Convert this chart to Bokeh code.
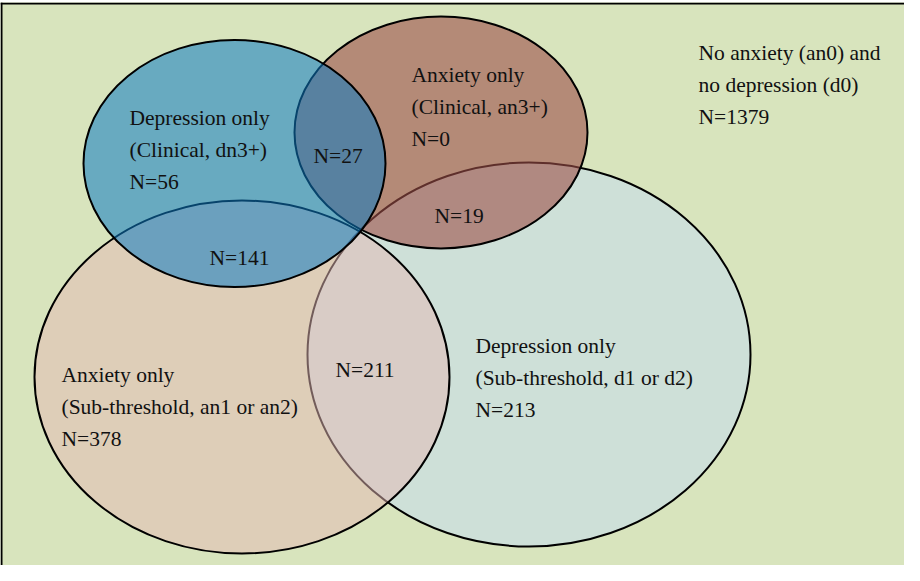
from bokeh.plotting import figure
from bokeh.models import ColumnDataSource, Range1d, Span
from bokeh.core.properties import value
from bokeh.embed import file_html
from bokeh.resources import INLINE

# ---------------- data ----------------
# the four sets, in drawing order (bottom -> top)
set_keys = ["dep_sub", "anx_sub", "anx_clin", "dep_clin"]
set_titles = ["Depression only", "Anxiety only", "Anxiety only", "Depression only"]
set_subtitles = ["(Sub-threshold, d1 or d2)", "(Sub-threshold, an1 or an2)",
                 "(Clinical, an3+)", "(Clinical, dn3+)"]
set_only_n = [213, 378, 0, 56]

# pairwise overlaps
overlap_keys = ["dep_clin & anx_clin", "dep_clin & anx_sub", "anx_clin & dep_sub", "anx_sub & dep_sub"]
overlap_n = [27, 141, 19, 211]

# outside all sets
neither_lines = ["No anxiety (an0) and", "no depression (d0)"]
neither_n = 1379

# ---------------- layout (page pixels) ----------------
PAGE_H = 581
ell_cx = [536.5, 249.5, 448.5, 242.0]
ell_cy = [362.0, 384.5, 140.0, 171.0]
ell_w = [443, 415, 293, 302]
ell_h = [384, 353, 232, 247]
ell_fill = ["#CEE0D8", "#E4B8B3", "#9C4E47", "#0C7AC3"]
ell_alpha = [1.0, 0.5, 0.6, 0.55]

# label anchors: left x, baseline of first line
set_lab_x = [483, 69, 419, 137]
set_lab_y = [353, 382, 82, 125]
ov_lab_x = [321, 217, 442, 343]
ov_lab_y = [163, 265, 223, 377]
neither_x, neither_y = 706, 60
LINE = 32

BG = "#D8E4BD"
FONT = value("Liberation Serif")
FSIZE = value("21.5px")
TCOL = "#111111"

p = figure(width=904, height=565, output_backend="svg", toolbar_location=None,
           x_axis_type=None, y_axis_type=None,
           x_range=Range1d(8, 912), y_range=Range1d(PAGE_H - 573, PAGE_H - 10),
           min_border_left=0, min_border_right=0, min_border_top=2, min_border_bottom=0)
p.background_fill_color = BG
p.border_fill_color = "white"
p.outline_line_color = None
p.xgrid.visible = False
p.ygrid.visible = False

src = ColumnDataSource(dict(x=ell_cx, y=[PAGE_H - v for v in ell_cy], w=ell_w, h=ell_h,
                            c=ell_fill, a=ell_alpha, key=set_keys))
for i in range(len(set_keys)):
    p.ellipse(x=ell_cx[i], y=PAGE_H - ell_cy[i], width=ell_w[i], height=ell_h[i],
              fill_color=ell_fill[i], fill_alpha=ell_alpha[i],
              line_color="black", line_width=2)

# texts
tx, ty, tt = [], [], []
for i in range(len(set_keys)):
    lines = [set_titles[i], set_subtitles[i], "N=%d" % set_only_n[i]]
    for j, s in enumerate(lines):
        tx.append(set_lab_x[i]); ty.append(PAGE_H - (set_lab_y[i] + j * LINE)); tt.append(s)
for i in range(len(overlap_keys)):
    tx.append(ov_lab_x[i]); ty.append(PAGE_H - ov_lab_y[i]); tt.append("N=%d" % overlap_n[i])
for j, s in enumerate(neither_lines + ["N=%d" % neither_n]):
    tx.append(neither_x); ty.append(PAGE_H - (neither_y + j * LINE)); tt.append(s)

p.text(x=tx, y=ty, text=tt, text_font=FONT, text_font_size=FSIZE,
       text_color=TCOL, text_align="left", text_baseline="alphabetic")

# frame border (left and top only, the rest is cut off in the reference)
p.add_layout(Span(location=9, dimension="height", line_color="black", line_width=2))
p.add_layout(Span(location=PAGE_H - 11, dimension="width", line_color="black", line_width=2))

open("out.html", "w").write(file_html(p, INLINE))
